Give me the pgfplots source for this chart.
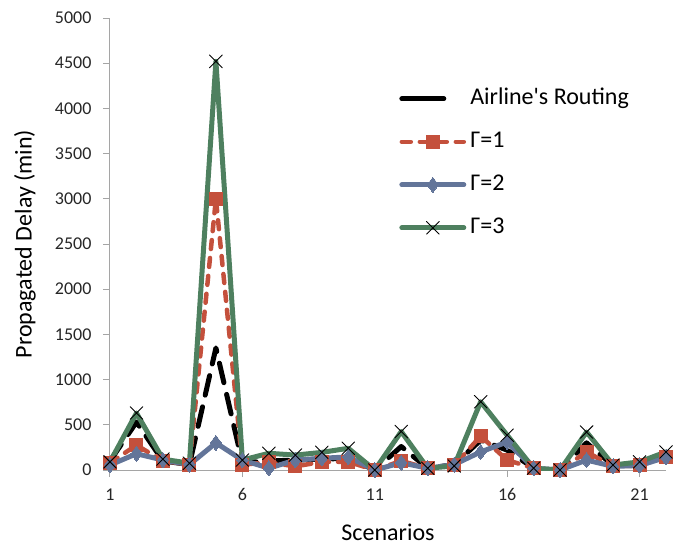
\documentclass[border=0pt]{standalone}
\usepackage{fontspec}
\setmainfont{Carlito}
\usepackage{pgfplots}
\pgfplotsset{compat=1.18}
\definecolor{axgray}{RGB}{165,165,165}
\definecolor{gred}{RGB}{196,80,60}
\definecolor{gblue}{RGB}{99,117,153}
\definecolor{ggreen}{RGB}{78,128,95}

\pgfplotstableread{
x airline g1 g2 g3
1 100 80 55 90
2 530 275 180 630
3 100 100 110 120
4 60 60 60 75
5 1350 3000 300 4520
6 80 60 110 110
7 100 85 20 185
8 110 40 110 165
9 120 90 130 195
10 130 90 145 240
11 0 0 0 0
12 260 100 80 425
13 20 20 20 20
14 60 50 60 45
15 330 375 200 755
16 220 110 310 385
17 20 20 20 20
18 0 0 0 0
19 300 200 110 420
20 50 40 40 55
21 60 50 50 90
22 150 145 140 200
}\delaydata

\begin{document}
\begin{tikzpicture}
\path[use as bounding box] (-110pt,-77pt) rectangle (577pt,470pt);
\begin{axis}[
  at={(0,0)}, anchor=south west,
  scale only axis, width=556pt, height=452pt,
  xmin=1, xmax=22, ymin=0, ymax=5000,
  axis x line*=bottom, axis y line*=left,
  axis line style={axgray, line width=1pt},
  xtick={1,6,11,16,21},
  ytick={0,500,...,5000},
  tick style={axgray, line width=1pt},
  major tick length=7pt,
  tick align=outside,
  scaled y ticks=false,
  yticklabel style={/pgf/number format/fixed, /pgf/number format/1000 sep={}, xshift=-8pt},
  xticklabel style={yshift=-8pt},
  /pgf/number format/assume math mode=true,
  ticklabel style={font=\fontsize{18}{21}\selectfont, text=black!85},
  xlabel={Scenarios}, ylabel={Propagated Delay (min)},
  label style={font=\fontsize{24}{28}\selectfont},
  xlabel style={at={(axis description cs:0.5,0)}, anchor=center, yshift=-62pt},
  ylabel style={at={(axis description cs:0,0.5)}, anchor=center, yshift=85pt},
  legend style={at={(rel axis cs:0.52,0.846)}, anchor=north west, draw=none, fill=none,
    font=\fontsize{24}{28}\selectfont, row sep=21pt, inner sep=0pt,
    nodes={inner xsep=4pt, inner ysep=0pt, text height=17pt, text depth=5pt}},
  legend cell align=left,
  legend image code/.code={%
    \draw[mark repeat=2, mark phase=2, #1] plot coordinates {(0pt,0pt) (31pt,0pt) (62pt,0pt)};},
  line join=round,
]
\addplot[black, line width=5pt, line cap=round, dash pattern=on 20pt off 12pt,
  legend image code/.code={\draw[black, solid, line width=5pt, line cap=round] (0pt,0pt) -- (42pt,0pt);}]
  table[x=x, y=airline] {\delaydata};
\addlegendentry{Airline\textquotesingle s Routing}
\addplot[gred, line width=4.5pt, line cap=round, dash pattern=on 9pt off 9pt,
  mark=square*, mark size=6.5pt, mark options={solid, fill=gred, draw=gred, line width=0pt}]
  table[x=x, y=g1] {\delaydata};
\addlegendentry{Γ=1}
\addplot[gblue, line width=5pt, line cap=round,
  mark=diamond*, mark size=7.5pt, mark options={solid, fill=gblue, draw=gblue, line width=0pt}]
  table[x=x, y=g2] {\delaydata};
\addlegendentry{Γ=2}
\addplot[ggreen, line width=5pt, line cap=round,
  mark=x, mark size=9pt, mark options={solid, draw=black, line width=0.9pt}]
  table[x=x, y=g3] {\delaydata};
\addlegendentry{Γ=3}
\end{axis}
\end{tikzpicture}
\end{document}
